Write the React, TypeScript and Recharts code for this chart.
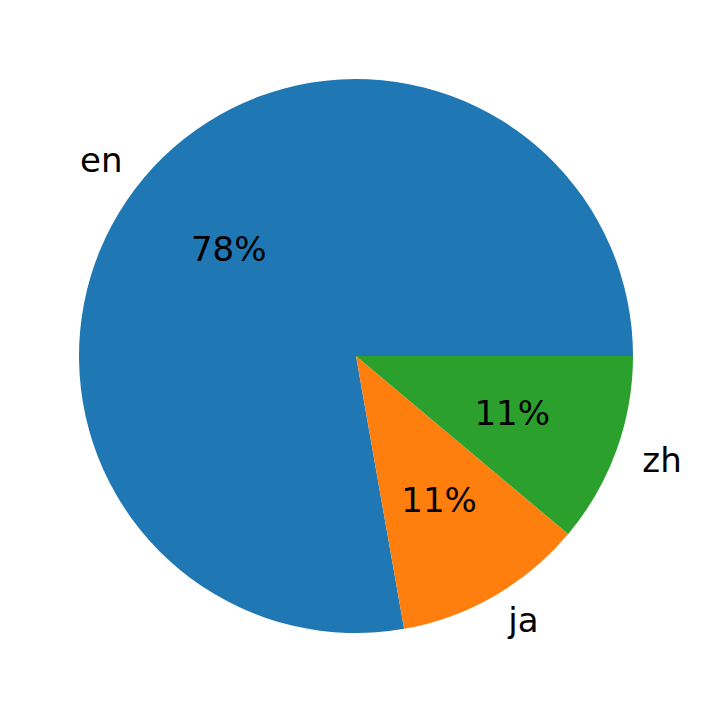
import { PieChart, Pie, Cell } from "recharts";

const languages = ["en", "ja", "zh"];
const counts = [7, 1, 1];
const colors = ["#1f77b4", "#ff7f0e", "#2ca02c"];

const data = languages.map((name, i) => ({ name, value: counts[i] }));

const RADIAN = Math.PI / 180;
const FONT = "'DejaVu Sans', sans-serif";

const renderLabel = (props: any) => {
  const { cx, cy, midAngle, outerRadius, percent, name } = props;
  const cos = Math.cos(-midAngle * RADIAN);
  const sin = Math.sin(-midAngle * RADIAN);
  const ox = cx + outerRadius * 1.1 * cos;
  const oy = cy + outerRadius * 1.1 * sin;
  const ix = cx + outerRadius * 0.6 * cos;
  const iy = cy + outerRadius * 0.6 * sin;
  return (
    <g>
      <text
        x={ox}
        y={oy}
        fill="#000"
        fontSize={34}
        fontFamily={FONT}
        textAnchor={cos >= 0 ? "start" : "end"}
        dominantBaseline="central"
      >
        {name}
      </text>
      <text
        x={ix}
        y={iy}
        fill="#000"
        fontSize={34}
        fontFamily={FONT}
        textAnchor="middle"
        dominantBaseline="central"
      >
        {`${Math.round(percent * 100)}%`}
      </text>
    </g>
  );
};

export default function App() {
  return (
    <div style={{ position: "absolute", left: 0, top: 0, background: "#fff" }}>
      <PieChart width={712} height={713} margin={{ top: 0, right: 0, bottom: 0, left: 0 }}>
        <Pie
          data={data}
          dataKey="value"
          nameKey="name"
          cx={356}
          cy={356}
          outerRadius={277}
          startAngle={0}
          endAngle={360}
          stroke="none"
          labelLine={false}
          label={renderLabel}
          isAnimationActive={false}
        >
          {data.map((entry, index) => (
            <Cell key={`cell-${index}`} fill={colors[index]} />
          ))}
        </Pie>
      </PieChart>
    </div>
  );
}
